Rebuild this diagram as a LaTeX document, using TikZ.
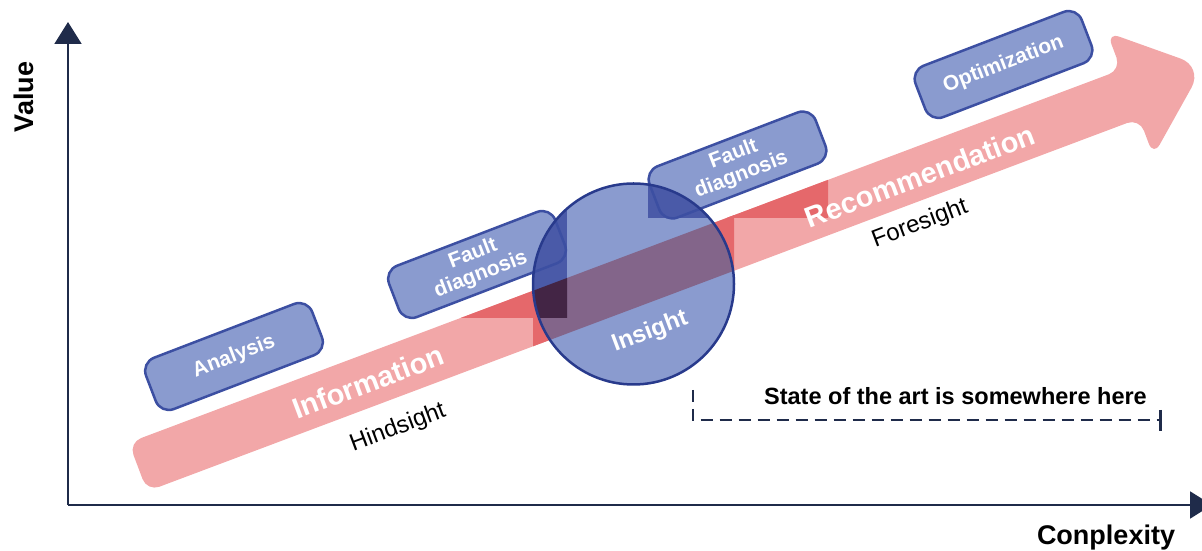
\documentclass[tikz,border=0pt]{standalone}
\usepackage{fontspec}
\setmainfont{Liberation Sans}
\usetikzlibrary{arrows.meta}

\definecolor{navy}{HTML}{1F2B4A}
\definecolor{bandpink}{HTML}{F2A7A8}
\definecolor{banddark}{HTML}{E5686B}
\definecolor{boxblue}{HTML}{8A9BCF}
\definecolor{boxedge}{HTML}{3C4FA2}
\definecolor{ringedge}{HTML}{283A8C}
\definecolor{deepblue}{HTML}{4A5AA8}
\definecolor{mixpurple}{HTML}{83658A}
\definecolor{mixdark}{HTML}{432545}

% the wide arrow, in its own rotated frame
\newcommand{\bandpath}{(0,-26) -- (1060,-26) -- (1060,-66) [rounded corners=24] -- (1138,0) [rounded corners=13] -- (1060,66) -- (1060,26) -- (0,26) -- cycle}

\tikzset{
  bandframe/.style={shift={(138,84)}, rotate=20.6, rounded corners=13},
  boxshape/.style={rectangle, rounded corners=14, rotate=21,
    minimum width=178, minimum height=55, inner sep=0pt},
  boxfill/.style={boxshape, fill=boxblue},
  boxline/.style={boxshape, draw=boxedge, line width=2.5pt, text=white,
    align=center, font=\fontsize{21}{22}\selectfont\bfseries},
  axis/.style={navy, line width=2pt, -{Triangle[length=22, width=27]}},
  bandtext/.style={text=white, rotate=20.6, font=\fontsize{29}{32}\selectfont\bfseries},
  sidetext/.style={text=black, rotate=20.6, font=\fontsize{24}{26}\selectfont},
  axislabel/.style={text=black, font=\fontsize{27}{30}\selectfont\bfseries},
}

\begin{document}
\begin{tikzpicture}[x=1pt, y=1pt]
\useasboundingbox (0,0) rectangle (1202,551);
\clip (0,0) rectangle (1202,551);

% axes
\coordinate (origin) at (68,46);
\coordinate (ytip) at (68,529);
\coordinate (xtip) at (1212,46);
\draw[axis] (origin) -- (ytip);
\draw[axis] (origin) -- (xtip);
\node[axislabel, rotate=90, anchor=base] (valuelabel) at (33,454) {Value};
\node[axislabel, anchor=base] (cxlabel) at (1106,6) {Conplexity};

% the wide arrow
\fill[bandpink, bandframe] \bandpath;

% darker band where it passes through the bounding boxes
\begin{scope}
  \clip (387,233) rectangle (567,340);
  \fill[banddark, bandframe] \bandpath;
\end{scope}
\begin{scope}
  \clip (648,333) rectangle (828,439);
  \fill[banddark, bandframe] \bandpath;
\end{scope}
\begin{scope}
  \clip (533,167) rectangle (734,367);
  \fill[banddark, bandframe] \bandpath;
\end{scope}

% fills of the two middle boxes (under the circle)
\node[boxfill] (f1fill) at (477,286.5) {};
\node[boxfill] (f2fill) at (737.5,386) {};

% the insight circle
\coordinate (cc) at (633.5,267);
\fill[boxblue] (cc) circle (100.5);
\begin{scope}
  \clip (cc) circle (100.5);
  \fill[mixpurple, bandframe] \bandpath;
  \begin{scope}
    \clip (387,233) rectangle (567,340);
    \fill[deepblue] (387,233) rectangle (567,340);
    \fill[mixdark, bandframe] \bandpath;
  \end{scope}
  \begin{scope}
    \clip (648,333) rectangle (828,439);
    \fill[deepblue] (648,333) rectangle (828,439);
    \fill[mixdark, bandframe] \bandpath;
  \end{scope}
\end{scope}

% boxes
\node[boxfill] (anfill) at (234,194.5) {};
\node[boxfill] (opfill) at (1003.5,486.5) {};
\node[boxline] (analysis) at (234,194.5) {Analysis};
\node[boxline] (fault1) at (477,286.5) {Fault\\diagnosis};
\node[boxline] (fault2) at (737.5,386) {Fault\\diagnosis};
\node[boxline] (optim) at (1003.5,486.5) {Optimization};

\draw[ringedge, line width=2.5pt] (cc) circle (100.5);
\node[text=white, rotate=20.6, font=\fontsize{24}{26}\selectfont\bfseries] (insight) at (650,219) {Insight};

% texts along the arrow
\node[bandtext] (info) at (368,169) {Information};
\node[bandtext] (recom) at (920,375) {Recommendation};
\node[sidetext] (hind) at (398,123) {Hindsight};
\node[sidetext] (fore) at (920,327) {Foresight};

% state of the art bracket
\coordinate (bk1) at (692.7,161);
\coordinate (bk2) at (692.7,131);
\coordinate (bk3) at (1160,131);
\coordinate (tk1) at (1160,141);
\coordinate (tk2) at (1160,120);
\draw[navy, line width=2.4pt, dash pattern=on 12pt off 7pt] (bk1) -- (bk2) -- (bk3);
\draw[navy, line width=3pt] (tk1) -- (tk2);
\node[text=black, font=\fontsize{23.5}{26}\selectfont\bfseries] (state) at (955.5,155) {State of the art is somewhere here};
\end{tikzpicture}
\end{document}
